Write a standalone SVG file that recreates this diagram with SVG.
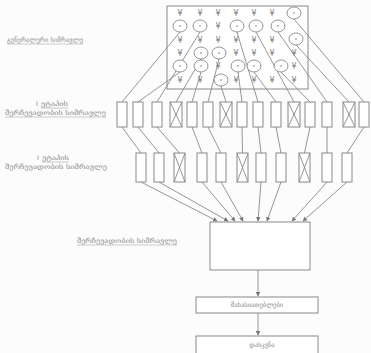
<svg xmlns="http://www.w3.org/2000/svg" width="371" height="353" viewBox="0 0 371 353">
<defs>
<marker id="ah" viewBox="0 0 8 8" refX="7" refY="4" markerWidth="5" markerHeight="5" orient="auto"><path d="M0,0 L8,4 L0,8 Z" fill="#777"/></marker>
</defs>
<style>
.ln{stroke:#8a8a8a;stroke-width:0.9;fill:none}
.bx{stroke:#888;stroke-width:1;fill:#fff}
.c{stroke:#888;stroke-width:0.9;fill:#fff}
.d{fill:#777}
.y{font-family:"DejaVu Sans",sans-serif;font-size:8px;fill:#777;text-anchor:middle}
.t{font-family:"DejaVu Sans",sans-serif;font-size:6.5px;fill:#8a8a8a}
.u{stroke:#aaa;stroke-width:0.6}
</style>
<rect width="371" height="353" fill="#fcfcfc"/>

<g id="labels">
<text class="t" x="7" y="42" textLength="76" lengthAdjust="spacingAndGlyphs">გენერალური სიმრავლე</text>
<line class="u" x1="7" y1="44" x2="83" y2="44"/>
<text class="t" x="36" y="106">I</text>
<text class="t" x="41" y="106" textLength="27" lengthAdjust="spacingAndGlyphs">ეტაპის</text>
<line class="u" x1="41" y1="108" x2="68" y2="108"/>
<text class="t" x="5" y="115" textLength="101" lengthAdjust="spacingAndGlyphs">შერჩევადობის სიმრავლე</text>
<line class="u" x1="5" y1="117" x2="106" y2="117"/>
<text class="t" x="37" y="160">I</text>
<text class="t" x="42" y="160" textLength="27" lengthAdjust="spacingAndGlyphs">ეტაპის</text>
<line class="u" x1="42" y1="162" x2="69" y2="162"/>
<text class="t" x="5" y="169" textLength="102" lengthAdjust="spacingAndGlyphs">შერჩევადობის სიმრავლე</text>
<text class="t" x="77" y="243" textLength="100" lengthAdjust="spacingAndGlyphs">შერჩევადობის სიმრავლე</text>
<line class="u" x1="77" y1="245" x2="177" y2="245"/>
</g>

<g id="population">
<rect class="bx" x="167" y="6" width="141" height="83" fill="none"/>
<g>
<text class="y" x="180" y="16">¥</text><text class="y" x="200" y="16">¥</text><text class="y" x="218" y="16">¥</text><text class="y" x="236" y="16">¥</text><text class="y" x="254" y="16">¥</text><text class="y" x="272" y="16">¥</text>
<text class="y" x="218" y="29">¥</text>
<text class="y" x="180" y="43">¥</text><text class="y" x="200" y="43">¥</text><text class="y" x="218" y="43">¥</text><text class="y" x="236" y="43">¥</text><text class="y" x="254" y="43">¥</text><text class="y" x="272" y="43">¥</text>
<text class="y" x="180" y="56">¥</text><text class="y" x="236" y="56">¥</text><text class="y" x="254" y="56">¥</text><text class="y" x="272" y="56">¥</text><text class="y" x="294" y="56">¥</text>
<text class="y" x="218" y="69">¥</text><text class="y" x="294" y="69">¥</text>
<text class="y" x="180" y="83">¥</text><text class="y" x="200" y="83">¥</text><text class="y" x="236" y="83">¥</text><text class="y" x="254" y="83">¥</text><text class="y" x="272" y="83">¥</text><text class="y" x="294" y="83">¥</text>
</g>
</g>

<g id="connectors">
<!-- circles to stage-1 boxes -->
<line class="ln" x1="180" y1="32" x2="122" y2="102"/>
<line class="ln" x1="180" y1="72" x2="138" y2="102"/>
<line class="ln" x1="200" y1="32" x2="157" y2="102"/>
<line class="ln" x1="201" y1="59" x2="176" y2="102"/>
<line class="ln" x1="201" y1="72" x2="192" y2="102"/>
<line class="ln" x1="219" y1="59" x2="208" y2="102"/>
<line class="ln" x1="221" y1="86" x2="226" y2="102"/>
<line class="ln" x1="238" y1="72" x2="242" y2="102"/>
<line class="ln" x1="237" y1="32" x2="258" y2="102"/>
<line class="ln" x1="254" y1="72" x2="276" y2="102"/>
<line class="ln" x1="256" y1="32" x2="294" y2="102"/>
<line class="ln" x1="281" y1="72" x2="310" y2="102"/>
<line class="ln" x1="278" y1="32" x2="327" y2="102"/>
<line class="ln" x1="296" y1="45" x2="349" y2="102"/>
<line class="ln" x1="294" y1="19" x2="364" y2="102"/>
<!-- stage-1 to stage-2 -->
<line class="ln" x1="122" y1="127" x2="141" y2="153"/>
<line class="ln" x1="138" y1="127" x2="159" y2="153"/>
<line class="ln" x1="157" y1="127" x2="179.5" y2="153"/>
<line class="ln" x1="192" y1="127" x2="202" y2="153"/>
<line class="ln" x1="208" y1="127" x2="221" y2="153"/>
<line class="ln" x1="242" y1="127" x2="242.5" y2="153"/>
<line class="ln" x1="258" y1="127" x2="261" y2="153"/>
<line class="ln" x1="276" y1="127" x2="281" y2="153"/>
<line class="ln" x1="310" y1="127" x2="304.5" y2="153"/>
<line class="ln" x1="327" y1="127" x2="327" y2="153"/>
<line class="ln" x1="364" y1="127" x2="347" y2="153"/>
<!-- stage-2 to sample box -->
<line class="ln" x1="141" y1="182" x2="217" y2="221" marker-end="url(#ah)"/>
<line class="ln" x1="159" y1="182" x2="228" y2="221" marker-end="url(#ah)"/>
<line class="ln" x1="202" y1="182" x2="235" y2="221" marker-end="url(#ah)"/>
<line class="ln" x1="221" y1="182" x2="243" y2="221" marker-end="url(#ah)"/>
<line class="ln" x1="261" y1="182" x2="258" y2="221" marker-end="url(#ah)"/>
<line class="ln" x1="281" y1="182" x2="267" y2="221" marker-end="url(#ah)"/>
<line class="ln" x1="327" y1="182" x2="292" y2="221" marker-end="url(#ah)"/>
<line class="ln" x1="347" y1="182" x2="303" y2="221" marker-end="url(#ah)"/>
<line class="ln" x1="258" y1="270" x2="258" y2="296" marker-end="url(#ah)"/>
<line class="ln" x1="258" y1="313" x2="258" y2="335" marker-end="url(#ah)"/>
</g>

<g id="circles">
<g id="cA"><ellipse class="c" cx="294" cy="13" rx="7" ry="6"/><circle class="d" cx="294" cy="13" r="0.8"/></g>
<g id="cB"><ellipse class="c" cx="180" cy="26" rx="7" ry="6"/><circle class="d" cx="180" cy="26" r="0.8"/></g>
<g id="cC"><ellipse class="c" cx="200" cy="26" rx="7" ry="6"/><circle class="d" cx="200" cy="26" r="0.8"/></g>
<g id="cD"><ellipse class="c" cx="237" cy="26" rx="7" ry="6"/><circle class="d" cx="237" cy="26" r="0.8"/></g>
<g id="cE"><ellipse class="c" cx="256" cy="26" rx="7" ry="6"/><circle class="d" cx="256" cy="26" r="0.8"/></g>
<g id="cF"><ellipse class="c" cx="278" cy="26" rx="7" ry="6"/><circle class="d" cx="278" cy="26" r="0.8"/></g>
<g id="cG"><ellipse class="c" cx="296" cy="39" rx="7" ry="6"/><circle class="d" cx="296" cy="39" r="0.8"/></g>
<g id="cH"><ellipse class="c" cx="201" cy="53" rx="7" ry="6"/><circle class="d" cx="201" cy="53" r="0.8"/></g>
<g id="cI"><ellipse class="c" cx="219" cy="53" rx="7" ry="6"/><circle class="d" cx="219" cy="53" r="0.8"/></g>
<g id="cJ"><ellipse class="c" cx="180" cy="66" rx="7" ry="6"/><circle class="d" cx="180" cy="66" r="0.8"/></g>
<g id="cK"><ellipse class="c" cx="201" cy="66" rx="7" ry="6"/><circle class="d" cx="201" cy="66" r="0.8"/></g>
<g id="cL"><ellipse class="c" cx="238" cy="66" rx="7" ry="6"/><circle class="d" cx="238" cy="66" r="0.8"/></g>
<g id="cM"><ellipse class="c" cx="254" cy="66" rx="7" ry="6"/><circle class="d" cx="254" cy="66" r="0.8"/></g>
<g id="cN"><ellipse class="c" cx="281" cy="66" rx="7" ry="6"/><circle class="d" cx="281" cy="66" r="0.8"/></g>
<g id="cO"><ellipse class="c" cx="221" cy="80" rx="7" ry="6"/><circle class="d" cx="221" cy="80" r="0.8"/></g>
</g>

<g id="stage1">
<g id="s1-1"><rect class="bx" x="117" y="102" width="10" height="25"/></g>
<g id="s1-2"><rect class="bx" x="133" y="102" width="10" height="25"/></g>
<g id="s1-3"><rect class="bx" x="152" y="102" width="10" height="25"/></g>
<g id="s1-4"><rect class="bx" x="170" y="102" width="12" height="25"/><path class="ln" d="M170,102 L182,127 M182,102 L170,127"/></g>
<g id="s1-5"><rect class="bx" x="187" y="102" width="10" height="25"/></g>
<g id="s1-6"><rect class="bx" x="203" y="102" width="10" height="25"/></g>
<g id="s1-7"><rect class="bx" x="220" y="102" width="12" height="25"/><path class="ln" d="M220,102 L232,127 M232,102 L220,127"/></g>
<g id="s1-8"><rect class="bx" x="237" y="102" width="10" height="25"/></g>
<g id="s1-9"><rect class="bx" x="253" y="102" width="10" height="25"/></g>
<g id="s1-10"><rect class="bx" x="271" y="102" width="10" height="25"/></g>
<g id="s1-11"><rect class="bx" x="288" y="102" width="12" height="25"/><path class="ln" d="M288,102 L300,127 M300,102 L288,127"/></g>
<g id="s1-12"><rect class="bx" x="305" y="102" width="10" height="25"/></g>
<g id="s1-13"><rect class="bx" x="322" y="102" width="10" height="25"/></g>
<g id="s1-14"><rect class="bx" x="343" y="102" width="12" height="25"/><path class="ln" d="M343,102 L355,127 M355,102 L343,127"/></g>
<g id="s1-15"><rect class="bx" x="359" y="102" width="10" height="25"/></g>
</g>

<g id="stage2">
<g id="s2-1"><rect class="bx" x="136" y="153" width="10" height="29"/></g>
<g id="s2-2"><rect class="bx" x="154" y="153" width="10" height="29"/></g>
<g id="s2-3"><rect class="bx" x="174" y="153" width="11" height="29"/><path class="ln" d="M174,153 L185,182 M185,153 L174,182"/></g>
<g id="s2-4"><rect class="bx" x="197" y="153" width="10" height="29"/></g>
<g id="s2-5"><rect class="bx" x="216" y="153" width="10" height="29"/></g>
<g id="s2-6"><rect class="bx" x="237" y="153" width="11" height="29"/><path class="ln" d="M237,153 L248,182 M248,153 L237,182"/></g>
<g id="s2-7"><rect class="bx" x="256" y="153" width="10" height="29"/></g>
<g id="s2-8"><rect class="bx" x="276" y="153" width="10" height="29"/></g>
<g id="s2-9"><rect class="bx" x="299" y="153" width="11" height="29"/><path class="ln" d="M299,153 L310,182 M310,153 L299,182"/></g>
<g id="s2-10"><rect class="bx" x="322" y="153" width="10" height="29"/></g>
<g id="s2-11"><rect class="bx" x="342" y="153" width="10" height="29"/></g>
</g>

<g id="sample"><rect class="bx" x="210" y="222" width="100" height="48"/></g>
<g id="characteristics"><rect class="bx" x="196" y="297" width="122" height="16"/><text class="t" x="257" y="307" text-anchor="middle">მახასიათებლები</text></g>
<g id="conclusion"><rect class="bx" x="196" y="336" width="122" height="22"/><text class="t" x="262" y="347" text-anchor="middle">დასკვნა</text></g>
</svg>
